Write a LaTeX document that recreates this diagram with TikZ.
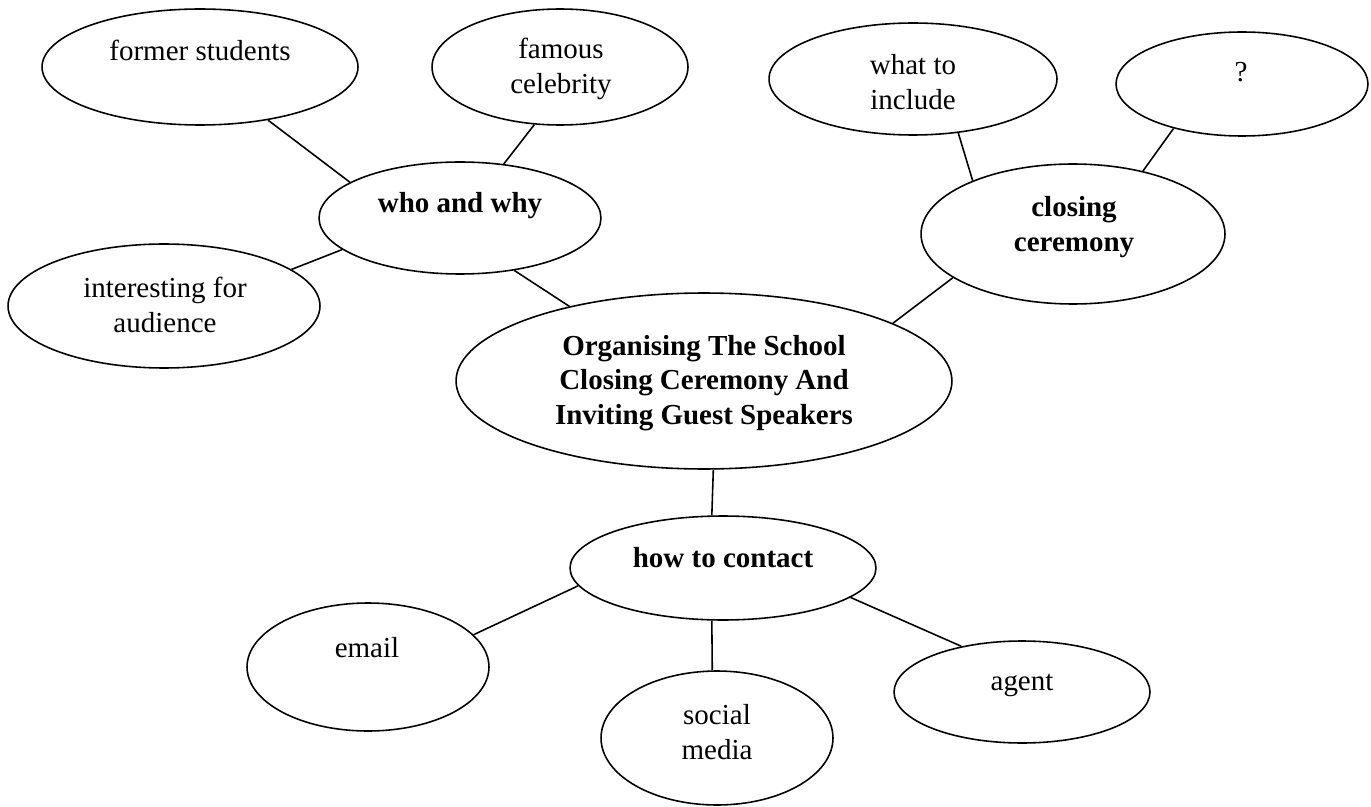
\documentclass[tikz,border=0pt]{standalone}
\usepackage{fontspec}
\setmainfont{Liberation Serif}
\usetikzlibrary{shapes.geometric}
\begin{document}
\begin{tikzpicture}[x=0.02cm,y=-0.02cm,
        bubble/.style={draw,ellipse,line width=0.9pt,inner sep=0pt},
        word/.style={font=\fontsize{16.5}{19.6}\selectfont,align=center,inner sep=0pt},
        head/.style={word,font=\fontsize{16.5}{19.6}\selectfont\bfseries},
        link/.style={line width=0.9pt}]
    \useasboundingbox (0,0) rectangle (1371,807);
    % bubbles
    \node[bubble,minimum width=6.32cm,minimum height=2.32cm] (former) at (200,67) {};
    \node[bubble,minimum width=5.12cm,minimum height=2.32cm] (famous) at (560,67) {};
    \node[bubble,minimum width=5.64cm,minimum height=2.24cm] (who) at (460,218) {};
    \node[bubble,minimum width=6.24cm,minimum height=2.48cm] (interest) at (164,306) {};
    \node[bubble,minimum width=9.92cm,minimum height=3.52cm] (main) at (704,381) {};
    \node[bubble,minimum width=5.76cm,minimum height=2.24cm] (include) at (913,79) {};
    \node[bubble,minimum width=5.04cm,minimum height=2.08cm] (other) at (1242,84) {};
    \node[bubble,minimum width=6.08cm,minimum height=2.80cm] (closing) at (1073,234) {};
    \node[bubble,minimum width=6.12cm,minimum height=2.08cm] (contact) at (723,568) {};
    \node[bubble,minimum width=4.84cm,minimum height=2.56cm] (email) at (368,667) {};
    \node[bubble,minimum width=4.64cm,minimum height=2.68cm] (social) at (717,738) {};
    \node[bubble,minimum width=5.12cm,minimum height=2.04cm] (agent) at (1022,692) {};
    % texts
    \node[word,anchor=base] (former-t) at (200,61) {former students};
    \node[word] (famous-t) at (561,69) {famous\\celebrity};
    \node[head,anchor=base] (who-t) at (460,213) {who and why};
    \node[word] (interest-t) at (165,305) {interesting for\\audience};
    \node[head] (main-t) at (704,383) {Organising The School\\Closing Ceremony And\\Inviting Guest Speakers};
    \node[word] (include-t) at (913,82) {what to\\include};
    \node[word,anchor=base] (other-t) at (1241,82) {?};
    \node[head] (closing-t) at (1074,227) {closing\\ceremony};
    \node[head,anchor=base] (contact-t) at (723,567) {how to contact};
    \node[word,anchor=base] (email-t) at (367,657) {email};
    \node[word] (social-t) at (717,732) {social\\media};
    \node[word,anchor=base] (agent-t) at (1022,690) {agent};
    % links
    \draw[link] (former.-38) -- (who.162);
    \draw[link] (famous.246) -- (who.51);
    \draw[link] (interest.16) -- (who.195);
    \draw[link] (who.-44) -- (main.151);
    \draw[link] (closing.200) -- (main.17);
    \draw[link] (include.-50) -- (closing.152);
    \draw[link] (other.213) -- (closing.42);
    \draw[link] (main.-84) -- (contact.102);
    \draw[link] (contact.187) -- (email.17);
    \draw[link] (contact.258) -- (social.94);
    \draw[link] (contact.-13) -- (agent.143);
\end{tikzpicture}
\end{document}
